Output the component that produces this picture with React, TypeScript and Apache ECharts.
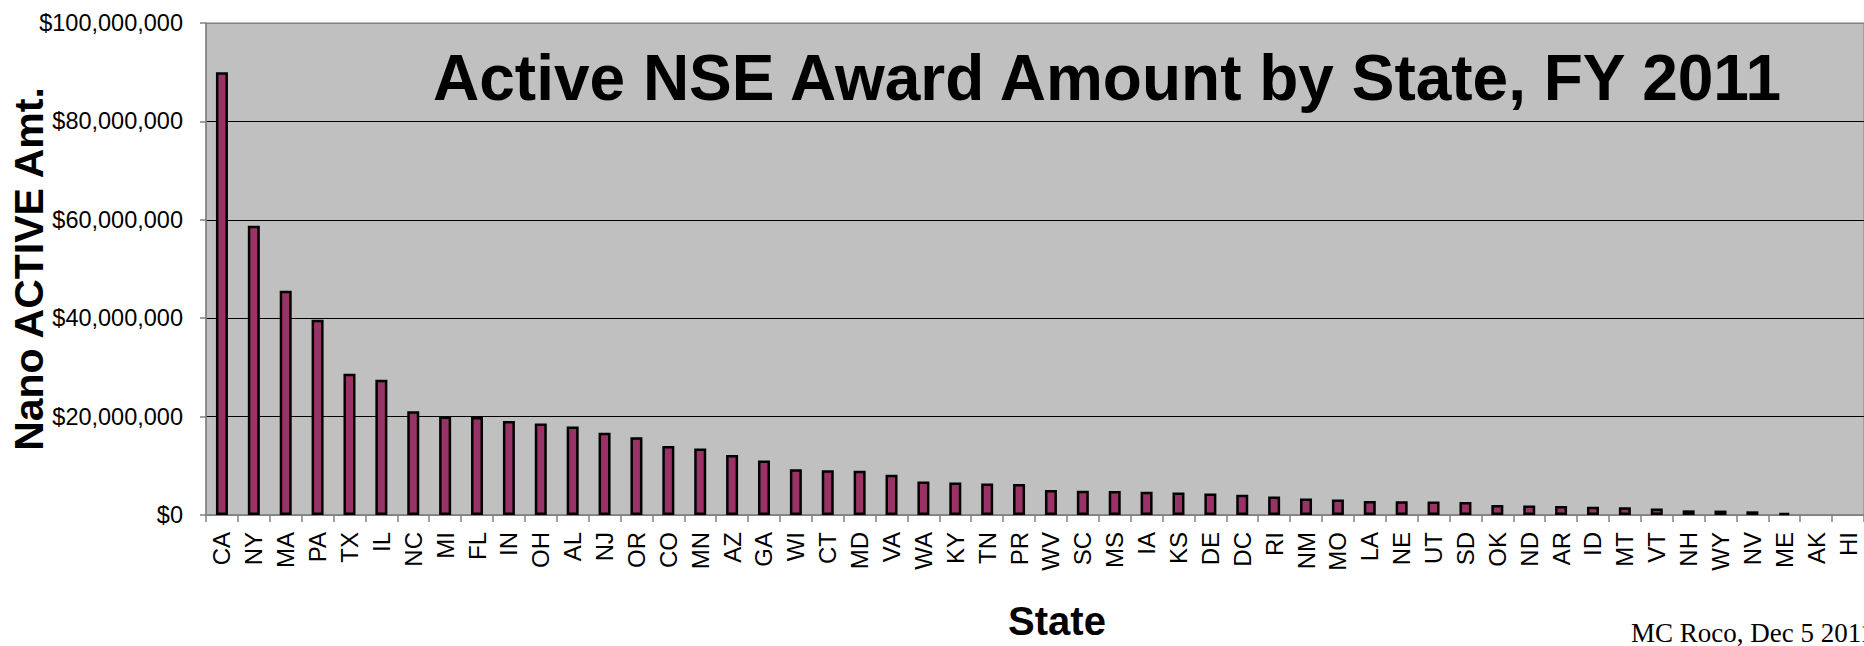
import React, { useEffect, useRef } from "react";
import * as echarts from "echarts";

const states = [
  "CA", "NY", "MA", "PA", "TX", "IL", "NC", "MI", "FL", "IN", "OH", "AL", "NJ",
  "OR", "CO", "MN", "AZ", "GA", "WI", "CT", "MD", "VA", "WA", "KY", "TN", "PR",
  "WV", "SC", "MS", "IA", "KS", "DE", "DC", "RI", "NM", "MO", "LA", "NE", "UT",
  "SD", "OK", "ND", "AR", "ID", "MT", "VT", "NH", "WY", "NV", "ME", "AK", "HI",
];

const awardAmounts = [
  90000000, 58800000, 45600000, 39700000, 28700000, 27500000, 21100000, 20000000,
  19900000, 19100000, 18600000, 18000000, 16700000, 15800000, 14000000, 13500000,
  12200000, 11100000, 9300000, 9100000, 9000000, 8200000, 6800000, 6600000,
  6400000, 6300000, 5100000, 4950000, 4900000, 4750000, 4550000, 4350000,
  4100000, 3750000, 3350000, 3150000, 2850000, 2800000, 2750000, 2650000,
  2050000, 1950000, 1850000, 1700000, 1550000, 1300000, 950000, 900000,
  750000, 400000, 0, 0,
];

const yTicks = [0, 20000000, 40000000, 60000000, 80000000, 100000000];

const chartTitle = "Active NSE Award Amount by State, FY 2011";
const xName = "State";
const yName = "Nano ACTIVE Amt.";
const credit = "MC Roco, Dec 5 2011";

const SANS = '"Liberation Sans", Arial, Helvetica, sans-serif';
const SERIF = '"Liberation Serif", "Times New Roman", serif';

export default function App() {
  const ref = useRef<HTMLDivElement>(null);

  useEffect(() => {
    document.body.style.margin = "0";
    if (!ref.current) return;
    const chart = echarts.init(ref.current, null, { renderer: "svg" });
    // zero amounts draw no bar at all in the reference
    const barData = awardAmounts.map((v) => (v === 0 ? "-" : v));
    chart.setOption({
      animation: false,
      backgroundColor: "#ffffff",
      textStyle: { fontFamily: SANS },
      title: {
        text: chartTitle,
        left: 433,
        top: 46,
        padding: 0,
        textStyle: { fontFamily: SANS, fontSize: 64, fontWeight: "bold", color: "#000" },
      },
      grid: {
        left: 206,
        top: 23,
        width: 1660,
        height: 499,
        show: true,
        backgroundColor: "#C0C0C0",
        borderColor: "#808080",
        borderWidth: 1,
        containLabel: false,
      },
      xAxis: {
        type: "category",
        data: states,
        name: xName,
        nameLocation: "middle",
        nameGap: 86,
        nameMoveOverlap: false,
        nameTextStyle: {
          fontFamily: SANS,
          fontSize: 40,
          fontWeight: "bold",
          color: "#000",
          padding: [0, 0, 0, 44],
        },
        axisLine: { show: true, lineStyle: { color: "#808080", width: 1.5 } },
        axisTick: { show: true, length: 7, lineStyle: { color: "#808080", width: 1.5 } },
        axisLabel: {
          rotate: 90,
          interval: 0,
          margin: 17,
          fontFamily: SANS,
          fontSize: 24,
          color: "#000",
        },
        splitLine: { show: false },
      },
      yAxis: {
        type: "value",
        min: yTicks[0],
        max: yTicks[yTicks.length - 1],
        interval: yTicks[1] - yTicks[0],
        name: yName,
        nameLocation: "middle",
        nameGap: 157,
        nameMoveOverlap: false,
        nameTextStyle: { fontFamily: SANS, fontSize: 41, fontWeight: "bold", color: "#000" },
        axisLine: { show: true, lineStyle: { color: "#808080", width: 1.5 } },
        axisTick: { show: true, length: 6, lineStyle: { color: "#808080", width: 1.5 } },
        axisLabel: {
          margin: 23,
          fontFamily: SANS,
          fontSize: 23.5,
          color: "#000",
          formatter: (v: number) => "$" + v.toLocaleString("en-US"),
        },
        splitLine: {
          show: true,
          lineStyle: {
            color: ["#808080", "#000000", "#000000", "#000000", "#000000", "#808080"],
            width: 1.2,
          },
        },
      },
      series: [
        {
          type: "bar",
          data: barData,
          barWidth: 12,
          itemStyle: { color: "#993366", borderColor: "#000000", borderWidth: 2.5 },
        },
      ],
      graphic: [
        {
          type: "text",
          x: 1631,
          y: 633,
          style: {
            text: credit,
            font: `27px ${SERIF}`,
            fill: "#000",
            align: "left",
            verticalAlign: "middle",
            textAlign: "left",
            textVerticalAlign: "middle",
          },
        },
      ],
    });
    return () => chart.dispose();
  }, []);

  return (
    <div
      ref={ref}
      style={{ position: "absolute", left: 0, top: 0, width: 1864, height: 646 }}
    />
  );
}
